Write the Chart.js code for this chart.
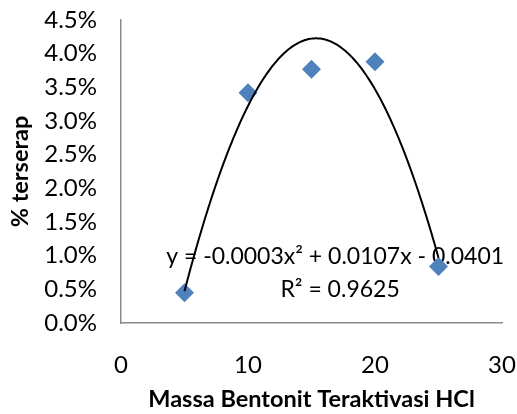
<!DOCTYPE html>
<html>
<head>
<meta charset="utf-8">
<script src="https://cdn.jsdelivr.net/npm/chart.js@4"></script>
<style>
html,body{margin:0;padding:0;background:#fff;}
#wrap{width:517px;height:414px;}
</style>
</head>
<body>
<div id="wrap"><canvas id="c" width="517" height="414"></canvas></div>
<script>
// Data
const massa = [5, 10, 15, 20, 25];
const terserap = [0.0045, 0.0342, 0.0377, 0.0388, 0.0084];
const xTicks = [0, 10, 20, 30];
const yTickStep = 0.005;
const xTitle = 'Massa Bentonit Teraktivasi HCl';
const yTitle = '% terserap';
const eqText = 'y = -0.0003x\u00B2 + 0.0107x - 0.0401';
const r2Text = 'R\u00B2 = 0.9625';

// Polynomial (order 2) least-squares trendline computed from the data
function polyFit2(xs, ys) {
  let s = [0,0,0,0,0], t = [0,0,0];
  for (let i = 0; i < xs.length; i++) {
    let p = 1;
    for (let k = 0; k < 5; k++) { s[k] += p; if (k < 3) t[k] += p * ys[i]; p *= xs[i]; }
  }
  const A = [[s[0],s[1],s[2],t[0]],[s[1],s[2],s[3],t[1]],[s[2],s[3],s[4],t[2]]];
  for (let i = 0; i < 3; i++) {
    for (let j = i + 1; j < 3; j++) {
      const f = A[j][i] / A[i][i];
      for (let k = i; k < 4; k++) A[j][k] -= f * A[i][k];
    }
  }
  const c = [0,0,0];
  for (let i = 2; i >= 0; i--) {
    let v = A[i][3];
    for (let k = i + 1; k < 3; k++) v -= A[i][k] * c[k];
    c[i] = v / A[i][i];
  }
  return c;
}
const coef = polyFit2(massa, terserap);
const trend = [];
const xMin = Math.min(...massa), xMax = Math.max(...massa);
for (let i = 0; i <= 200; i++) {
  const x = xMin + (xMax - xMin) * i / 200;
  trend.push({x: x, y: coef[0] + coef[1] * x + coef[2] * x * x});
}

const FONT = "Lato, 'Liberation Sans', sans-serif";

const textPlugin = {
  id: 'eqText',
  beforeDatasetsDraw(chart) {
    const {ctx, chartArea: a} = chart;
    ctx.save();
    ctx.fillStyle = '#000';
    ctx.font = "23px " + FONT;
    ctx.textAlign = 'center';
    ctx.textBaseline = 'middle';
    const w = a.right - a.left, h = a.bottom - a.top;
    ctx.fillText(eqText, a.left + w * 0.562, a.top + h * 0.782);
    ctx.fillText(r2Text, a.left + w * 0.575, a.top + h * 0.891);
    ctx.restore();
  }
};

new Chart(document.getElementById('c'), {
  type: 'scatter',
  data: {
    datasets: [
      {
        label: 'Trendline',
        data: trend,
        showLine: true,
        borderColor: '#000',
        borderWidth: 2,
        pointRadius: 0,
        fill: false,
        tension: 0
      },
      {
        label: '% terserap',
        data: massa.map((x, i) => ({x: x, y: terserap[i]})),
        pointStyle: 'rectRot',
        pointRadius: 9.5,
        pointHoverRadius: 9.5,
        backgroundColor: '#4F81BD',
        borderColor: '#4F81BD',
        borderWidth: 0
      }
    ]
  },
  options: {
    responsive: false,
    animation: false,
    events: [],
    layout: {padding: {left: 0, right: 15, top: 20, bottom: 0}},
    plugins: {legend: {display: false}, tooltip: {enabled: false}},
    scales: {
      x: {
        type: 'linear',
        min: 0, max: 30,
        afterBuildTicks: s => { s.ticks = xTicks.map(v => ({value: v})); },
        grid: {display: false},
        border: {display: true, color: '#8c8c8c', width: 1.5},
        ticks: {color: '#000', font: {family: FONT, size: 24}, padding: 20, maxRotation: 0},
        title: {display: true, text: xTitle, color: '#000', font: {family: FONT, size: 23.5, weight: 'bold'}, padding: {top: 9, bottom: 0}},
        afterFit: s => { s.height = 91; s.paddingLeft = 0; s.paddingRight = 0; }
      },
      y: {
        type: 'linear',
        min: 0, max: 0.045,
        grid: {display: false},
        border: {display: true, color: '#8c8c8c', width: 1.5},
        ticks: {
          stepSize: yTickStep,
          color: '#000',
          font: {family: FONT, size: 24},
          padding: 16,
          callback: v => (v * 100).toFixed(1) + '%'
        },
        title: {display: true, text: yTitle, color: '#000', font: {family: FONT, size: 23.5, weight: 'bold'}, padding: {top: 6, bottom: 0}},
        afterFit: s => { s.width = 121; s.paddingTop = 0; s.paddingBottom = 0; }
      }
    }
  },
  plugins: [textPlugin]
});
</script>
</body>
</html>
